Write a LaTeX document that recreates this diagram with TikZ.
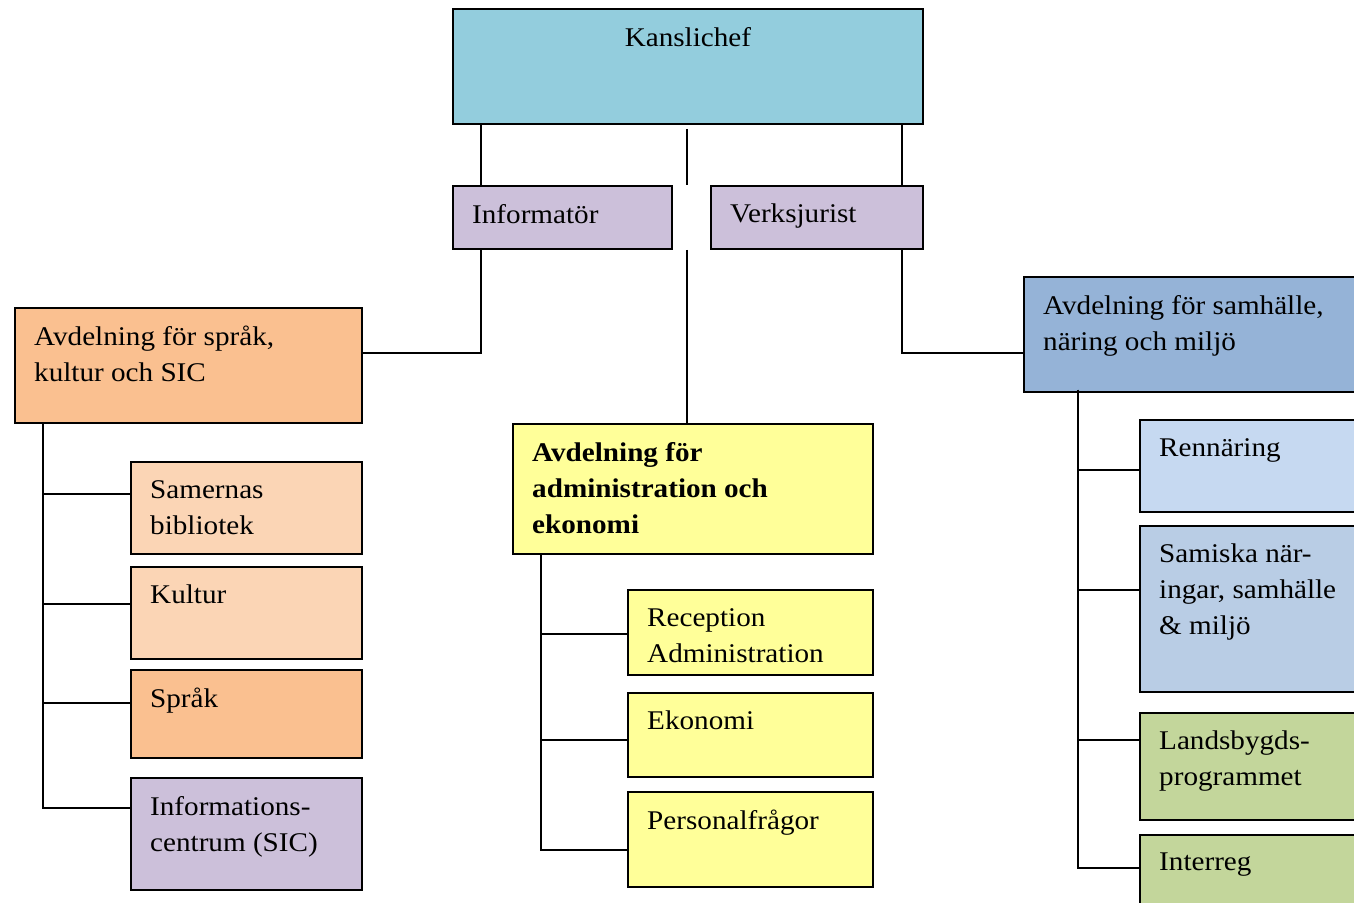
\documentclass[tikz,border=0pt]{standalone}
\usepackage{fontspec}
\setmainfont[FakeStretch=1.08]{Liberation Serif}
\usetikzlibrary{positioning}
\definecolor{kanslicol}{HTML}{93CDDD}
\definecolor{lilac}{HTML}{CCC0DA}
\definecolor{orangedk}{HTML}{FAC090}
\definecolor{orangelt}{HTML}{FBD5B5}
\definecolor{yellowbox}{HTML}{FFFF99}
\definecolor{bluedk}{HTML}{95B3D7}
\definecolor{bluemid}{HTML}{B9CDE5}
\definecolor{bluelt}{HTML}{C6D9F1}
\definecolor{greenbox}{HTML}{C3D69B}
\tikzset{x=1pt, y=-1pt,
orgbox/.style={ % Sets the properties for each box
draw, line width=1.8pt,
anchor=north west,
inner sep=0pt},
basetext/.style={
align=left, inner sep=0pt,
font=\fontsize{27}{36}\selectfont},
boxtext/.style={ % Text sits in the top left corner
basetext, anchor=north west,
xshift=20pt, yshift=-19pt},
toptext/.style={ % Text centered at the top
basetext, anchor=north, yshift=-19pt},
link/.style={ % Sets the properties for each connector
draw, line width=1.8pt}}

\begin{document}
\begin{tikzpicture}
\useasboundingbox (0,0) rectangle (1354,902);
\clip (0,0) rectangle (1354,902);
% top level
\node[orgbox, fill=kanslicol, minimum width=470pt, minimum height=115pt,
  label={[toptext]north:Kanslichef}] (kansli) at (452,8) {};
\node[orgbox, fill=lilac, minimum width=219pt, minimum height=63pt,
  label={[boxtext]north west:Informatör}] (inform) at (452,185) {};
\node[orgbox, fill=lilac, minimum width=212pt, minimum height=63pt,
  label={[boxtext]north west:Verksjurist}] (jurist) at (710,185) {};
% departments
\node[orgbox, fill=orangedk, minimum width=347pt, minimum height=115pt,
  label={[boxtext]north west:Avdelning för språk,\\kultur och SIC}] (sprak) at (14,307) {};
\node[orgbox, fill=yellowbox, minimum width=360pt, minimum height=130pt,
  label={[boxtext, font=\fontsize{27}{36}\selectfont\bfseries]north west:Avdelning för\\administration och\\ekonomi}] (admin) at (512,423) {};
\node[orgbox, fill=bluedk, minimum width=360pt, minimum height=115pt,
  label={[boxtext]north west:Avdelning för samhälle,\\näring och miljö}] (samh) at (1023,276) {};
% left units
\node[orgbox, fill=orangelt, minimum width=231pt, minimum height=92pt,
  label={[boxtext]north west:Samernas\\bibliotek}] (bibl) at (130,461) {};
\node[orgbox, fill=orangelt, minimum width=231pt, minimum height=92pt,
  label={[boxtext]north west:Kultur}] (kultur) at (130,566) {};
\node[orgbox, fill=orangedk, minimum width=231pt, minimum height=88pt,
  label={[boxtext]north west:Språk}] (sprakk) at (130,669) {};
\node[orgbox, fill=lilac, minimum width=231pt, minimum height=112pt,
  label={[boxtext]north west:Informations-\\centrum (SIC)}] (infoc) at (130,777) {};
% middle units
\node[orgbox, fill=yellowbox, minimum width=245pt, minimum height=85pt,
  label={[boxtext]north west:Reception\\Administration}] (recep) at (627,589) {};
\node[orgbox, fill=yellowbox, minimum width=245pt, minimum height=84pt,
  label={[boxtext]north west:Ekonomi}] (ekon) at (627,692) {};
\node[orgbox, fill=yellowbox, minimum width=245pt, minimum height=95pt,
  label={[boxtext]north west:Personalfrågor}] (pers) at (627,791) {};
% right units
\node[orgbox, fill=bluelt, minimum width=240pt, minimum height=92pt,
  label={[boxtext]north west:Rennäring}] (renn) at (1139,419) {};
\node[orgbox, fill=bluemid, minimum width=240pt, minimum height=166pt,
  label={[boxtext]north west:Samiska när-\\ingar, samhälle\\\& miljö}] (samiska) at (1139,525) {};
\node[orgbox, fill=greenbox, minimum width=240pt, minimum height=107pt,
  label={[boxtext]north west:Landsbygds-\\programmet}] (lands) at (1139,712) {};
\node[orgbox, fill=greenbox, minimum width=240pt, minimum height=100pt,
  label={[boxtext]north west:Interreg}] (interreg) at (1139,834) {};
% connector columns
\coordinate (xinf) at (481,0);
\coordinate (xmid) at (687,0);
\coordinate (xjur) at (902,0);
\coordinate (xleft) at (43,0);
\coordinate (xadm) at (541,0);
\coordinate (xright) at (1078,0);
\coordinate (ylink) at (0,353);
\draw[link] (kansli.south -| xinf) -- (inform.north -| xinf);
\draw[link] (kansli.south -| xjur) -- (jurist.north -| xjur);
\draw[link] ([yshift=-4pt]kansli.south -| xmid) -- (inform.north -| xmid);
\draw[link] (inform.south -| xmid) -- (admin.north -| xmid);
\draw[link] (inform.south -| xinf) |- (sprak.east |- ylink);
\draw[link] (jurist.south -| xjur) |- (samh.west |- ylink);
\foreach \n/\y in {bibl/494, kultur/604, sprakk/703, infoc/808}
  \draw[link] (sprak.south -| xleft) |- (\n.west |- 0,\y);
\foreach \n/\y in {recep/634, ekon/740, pers/850}
  \draw[link] (admin.south -| xadm) |- (\n.west |- 0,\y);
\foreach \n/\y in {renn/470, samiska/590, lands/740, interreg/868}
  \draw[link] ([yshift=3pt]samh.south -| xright) |- (\n.west |- 0,\y);
\end{tikzpicture}
\end{document}
